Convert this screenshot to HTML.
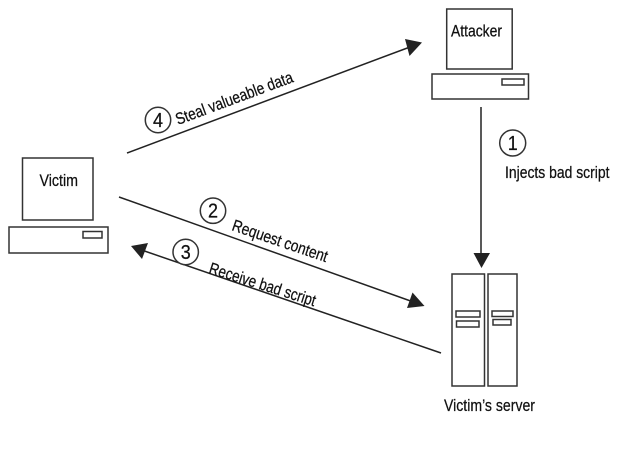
<!DOCTYPE html>
<html><head><meta charset="utf-8"><style>
html,body{margin:0;padding:0;background:#fff;width:633px;height:450px;overflow:hidden}
svg{display:block}
text{font-family:"Liberation Sans",sans-serif;font-size:16.5px;fill:#111;stroke:#111;stroke-width:.25}
.n{font-size:20px;text-anchor:middle}
rect,circle{fill:#fff;stroke:#333;stroke-width:1.5}
line{stroke:#222;stroke-width:1.5}
polygon{fill:#222}
</style></head><body>
<svg width="633" height="450" viewBox="0 0 633 450" xmlns="http://www.w3.org/2000/svg">
<rect x="446.7" y="9" width="65.5" height="60"/>
<rect x="432" y="74" width="96.5" height="25"/>
<rect x="502" y="79" width="22" height="6"/>
<rect x="22.5" y="158" width="70.5" height="62"/>
<rect x="9" y="227" width="99" height="26"/>
<rect x="83" y="231.5" width="19" height="6.5"/>
<rect x="452" y="274" width="32.5" height="112"/>
<rect x="488" y="274" width="29" height="112"/>
<rect x="456" y="311" width="24" height="6"/>
<rect x="456.5" y="321" width="22.5" height="6"/>
<rect x="492" y="311" width="21" height="5.5"/>
<rect x="493" y="319.5" width="18" height="5.5"/>
<line x1="481" y1="107" x2="481" y2="255"/>
<polygon points="481.5,268 473.5,253 490,253"/>
<line x1="119" y1="197" x2="412" y2="301.5"/>
<polygon points="424.5,306 407,308 412.5,292.5"/>
<line x1="441" y1="353" x2="143" y2="250.5"/>
<polygon points="131,246 148,243 142,259"/>
<line x1="127" y1="153" x2="410" y2="47"/>
<polygon points="422,42.5 405,39 409.5,56"/>
<circle cx="512.7" cy="143" r="13"/>
<circle cx="213" cy="210.7" r="12.7"/>
<circle cx="185.7" cy="252" r="12.7"/>
<circle cx="158" cy="120" r="12.7"/>
<text class="n" transform="translate(512.7,150) scale(.9,1)">1</text>
<text class="n" transform="translate(213,217.7) scale(.9,1)">2</text>
<text class="n" transform="translate(185.7,259) scale(.9,1)">3</text>
<text class="n" transform="translate(158,127) scale(.9,1)">4</text>
<text x="451" y="36.5" textLength="51" lengthAdjust="spacingAndGlyphs">Attacker</text>
<text x="39.5" y="186" textLength="38.5" lengthAdjust="spacingAndGlyphs">Victim</text>
<text x="505" y="178" textLength="104.5" lengthAdjust="spacingAndGlyphs">Injects bad script</text>
<text x="444" y="411" textLength="91" lengthAdjust="spacingAndGlyphs">Victim’s server</text>
<text transform="translate(231,230) rotate(18.8)" textLength="100" lengthAdjust="spacingAndGlyphs">Request content</text>
<text transform="translate(208,273) rotate(17.5)" textLength="111" lengthAdjust="spacingAndGlyphs">Receive bad script</text>
<text transform="translate(178,125) rotate(-20.4)" textLength="124" lengthAdjust="spacingAndGlyphs">Steal valueable data</text>
</svg>
</body></html>
